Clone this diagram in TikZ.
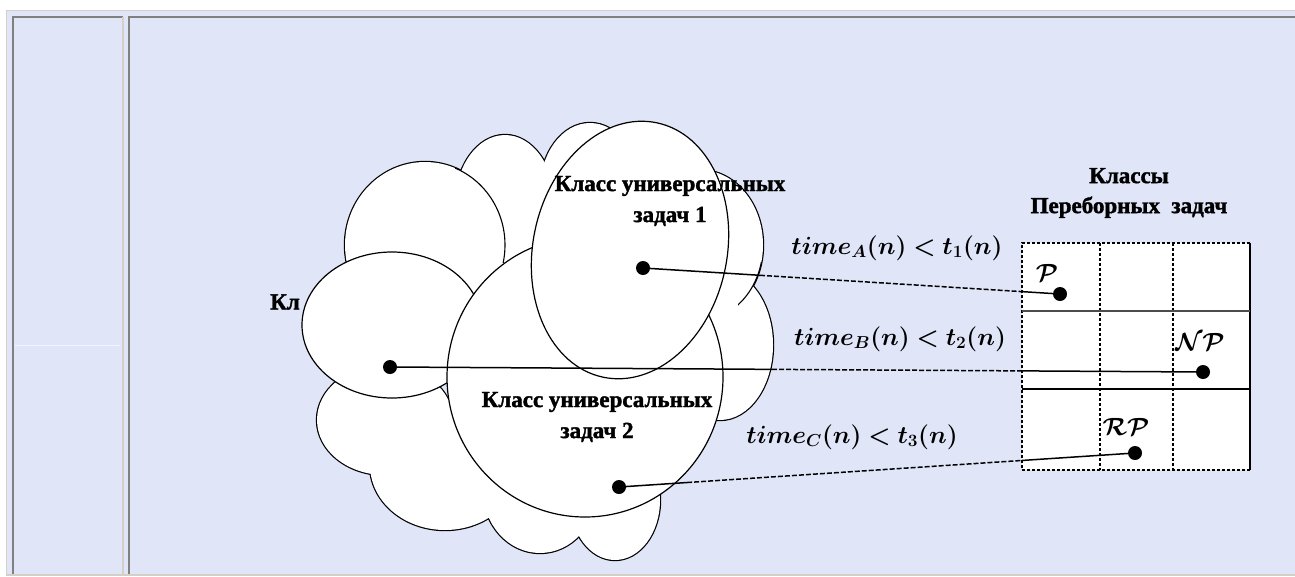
\documentclass[tikz,border=0pt]{standalone}
\usepackage{bm}
\usepackage{fontspec}
\setmainfont{Liberation Serif}[BoldFeatures={FakeBold=1.6}]
\usetikzlibrary{calc}
\definecolor{bgblue}{RGB}{224,230,248}
\definecolor{frbeige}{RGB}{212,208,200}
\definecolor{frgray}{RGB}{128,128,128}
\tikzset{
  lobeout/.style={draw=black, line width=2.4pt},
  lobefill/.style={fill=white},
  lobe/.style={fill=white, draw=black, line width=1.2pt},
  arcline/.style={draw=black, line width=1.1pt},
  dotn/.style={circle, fill=black, inner sep=0pt, minimum size=14pt},
  lbl/.style={font=\bfseries\fontsize{23}{31}\selectfont, align=center, inner sep=0pt},
  mlbl/.style={font=\fontsize{24}{28}\selectfont, inner sep=0pt},
  glbl/.style={font=\fontsize{26}{30}\selectfont, inner sep=0pt},
  conn/.style={line width=1.5pt},
  connout/.style={line width=1.5pt, dash pattern=on 5pt off 2pt},
  gridline/.style={line width=1.2pt}
}
\begin{document}
\begin{tikzpicture}[x=1pt,y=-1pt]
\useasboundingbox (0,0) rectangle (1295,576);
% window frame
\fill[white] (0,0) rectangle (1295,576);
\fill[bgblue] (6,10) rectangle (1295,576);
\draw[frbeige, line width=1pt] (6.5,576) -- (6.5,10.5) -- (1295,10.5);
\draw[frgray, line width=2pt] (13,576) -- (13,17) -- (123,17);
\draw[frbeige, line width=2pt] (123,17) -- (123,574);
\draw[frgray, line width=2pt] (129,576) -- (129,17) -- (1295,17);
\draw[frbeige, line width=2pt] (6,575) -- (1295,575);
\draw[white!55!bgblue, line width=1pt] (15,345) -- (120,345);

% cloud: outer outline of the union of the lobes
\foreach \cx/\cy/\rx/\ry in {505/205/50/70, 590/190/50/67, 425/245/80/83, 720/345/53/75,
  700/245/63/75, 385/420/68/55, 445/465/75/65, 540/490/57/63, 615/500/45/60}
  {\path[lobeout] (\cx,\cy) ellipse [x radius=\rx, y radius=\ry];}
\foreach \cx/\cy/\rx/\ry in {505/205/50/70, 590/190/50/67, 425/245/80/83, 720/345/53/75,
  700/245/63/75, 385/420/68/55, 445/465/75/65, 540/490/57/63, 615/500/45/60}
  {\path[lobefill] (\cx,\cy) ellipse [x radius=\rx, y radius=\ry];}
% a few inner lobe edges
\begin{scope}
  \clip (455,160) rectangle (520,262);
  \path[arcline] (425,245) ellipse [x radius=80, y radius=83];
\end{scope}
\begin{scope}
  \clip (738,262) rectangle (766,306);
  \path[arcline] (700,245) ellipse [x radius=63, y radius=75];
\end{scope}

% partly hidden label
\node[lbl, anchor=west] (kl) at (270,302) {Кл};

% class ellipses
\path[lobe] (392,325) ellipse [x radius=90, y radius=73];
\path[lobe] (585,377) ellipse [x radius=138, y radius=140];
\path[lobe, rotate around={-12:(630,250)}] (630,250) ellipse [x radius=97, y radius=130];

\node[lbl] (u1) at (670,201) {Класс универсальных\\задач 1};
\node[lbl] (u2) at (597,417) {Класс универсальных\\задач 2};

% grid of search problem classes
\node[lbl, font=\bfseries\fontsize{23}{30}\selectfont] (cls) at (1129,193) {Классы\\Переборных~~задач};
\fill[white] (1022,243) rectangle (1250,470);
\draw[gridline, densely dashed] (1250,470) -- (1022,470) -- (1022,243) -- (1250,243);
\draw[gridline] (1250,243) -- (1250,470);
\draw[gridline, densely dashed] (1100,243) -- (1100,470);
\draw[gridline, densely dashed] (1173,243) -- (1173,470);
\draw[gridline, black!70] (1022,311) -- (1250,311);
\draw[gridline] (1022,389) -- (1250,389);

\node[glbl] (lP) at (1047,273) {$\bm{\mathcal{P}}$};
\node[glbl] (lNP) at (1200,342) {$\bm{\mathcal{NP}}$};
\node[glbl] (lRP) at (1126,427) {$\bm{\mathcal{RP}}$};

% dots
\node[dotn] (dA) at (643,268) {};
\node[dotn] (dB) at (390,367) {};
\node[dotn] (dC) at (619,487) {};
\node[dotn] (dP) at (1060,294) {};
\node[dotn] (dNP) at (1203,372) {};
\node[dotn] (dRP) at (1135,453) {};

% connector break points
\coordinate (cA) at ($(dA)!0.2806!(dP)$);
\coordinate (gA) at ($(dA)!0.909!(dP)$);
\coordinate (cB) at ($(dB)!0.47!(dNP)$);
\coordinate (gB) at ($(dB)!0.777!(dNP)$);
\coordinate (cC) at ($(dC)!0.132!(dRP)$);
\coordinate (gC) at ($(dC)!0.781!(dRP)$);

\draw[conn] (dA) -- (cA);
\draw[connout] (cA) -- (gA);
\draw[conn] (gA) -- (dP);
\draw[conn] (dB) -- (cB);
\draw[connout] (cB) -- (gB);
\draw[conn] (gB) -- (dNP);
\draw[conn] (dC) -- (cC);
\draw[connout] (cC) -- (gC);
\draw[conn] (gC) -- (dRP);

% labels of the connectors
\node[mlbl] (tA) at (897,248) {$\bm{time_A(n) < t_1(n)}$};
\node[mlbl] (tB) at (900,339) {$\bm{time_B(n) < t_2(n)}$};
\node[mlbl] (tC) at (852,437) {$\bm{time_C(n) < t_3(n)}$};
\end{tikzpicture}
\end{document}
